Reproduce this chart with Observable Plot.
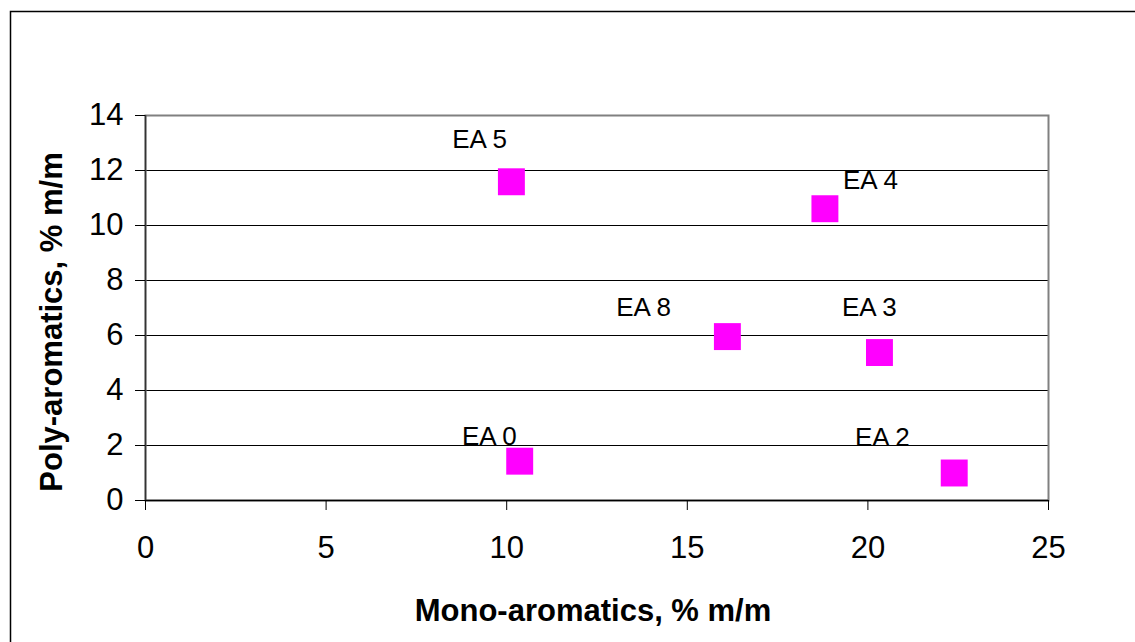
<!DOCTYPE html>
<html>
<head>
<meta charset="utf-8">
<script src="https://cdn.jsdelivr.net/npm/d3@7"></script>
<script src="https://cdn.jsdelivr.net/npm/@observablehq/plot@0.6"></script>
<style>
  html, body { margin: 0; padding: 0; background: #fff; }
  #chart { width: 1135px; height: 642px; overflow: hidden; }
</style>
</head>
<body>
<div id="chart"></div>
<script>
const labels = ["EA 0", "EA 2", "EA 3", "EA 4", "EA 5", "EA 8"];
const mono = [10.36, 22.39, 20.32, 18.81, 10.13, 16.11];
const poly = [1.43, 1.00, 5.38, 10.61, 11.59, 5.96];
// label anchor positions (data units), as placed in the source chart
const labelMono = [9.52, 20.40, 20.04, 20.07, 9.25, 13.79];
const labelPoly = [2.33, 2.29, 7.02, 11.64, 13.13, 7.02];
const xTicks = [0, 5, 10, 15, 20, 25];
const yTicks = [0, 2, 4, 6, 8, 10, 12, 14];
const gridY = [2, 4, 6, 8, 10, 12];
const xTitle = "Mono-aromatics, % m/m";
const yTitle = "Poly-aromatics, % m/m";

const points = labels.map((l, i) => ({label: l, x: mono[i], y: poly[i], lx: labelMono[i], ly: labelPoly[i]}));

const font = "'Liberation Sans', Arial, Helvetica, sans-serif";

const chart = Plot.plot({
  width: 1135,
  height: 642,
  marginLeft: 145,
  marginRight: 87,
  marginTop: 115,
  marginBottom: 142,
  style: {fontFamily: font, fontSize: "31px", color: "#000", background: "#fff", overflow: "hidden"},
  x: {domain: [0, 25], ticks: xTicks},
  y: {domain: [0, 14], ticks: yTicks},
  marks: [
    Plot.ruleY(gridY, {stroke: "#000", strokeWidth: 1}),
    Plot.frame({stroke: "#808080", strokeWidth: 2}),
    Plot.ruleY([0], {stroke: "#000", strokeWidth: 1.5}),
    Plot.ruleX([0], {stroke: "#333", strokeWidth: 1.5}),
    Plot.axisX({ticks: xTicks, tickSize: 10, tickPadding: 25, label: null, fontSize: 31, stroke: "#000"}),
    Plot.axisY({ticks: yTicks, tickSize: 10, tickPadding: 12, label: null, fontSize: 31, stroke: "#000"}),
    Plot.dot(points, {x: "x", y: "y", symbol: "square", r: 15.2, fill: "#FF00FF", stroke: null}),
    Plot.text(points, {x: "lx", y: "ly", text: "label", fontSize: 26, textAnchor: "middle", lineAnchor: "middle", fill: "#000"}),
    Plot.text([xTitle], {frameAnchor: "bottom", dy: 111, dx: -4, fontSize: 31, fontWeight: "bold", lineAnchor: "middle", fill: "#000"}),
    Plot.text([yTitle], {frameAnchor: "left", dx: -93, dy: 14, rotate: -90, fontSize: 31, fontWeight: "bold", lineAnchor: "middle", textAnchor: "middle", fill: "#000"})
  ]
});

d3.select(chart).append("rect")
  .attr("x", 10.5).attr("y", 11.5)
  .attr("width", 1300).attr("height", 800)
  .attr("fill", "none").attr("stroke", "#000").attr("stroke-width", 1.5);

document.getElementById("chart").appendChild(chart);
</script>
</body>
</html>
